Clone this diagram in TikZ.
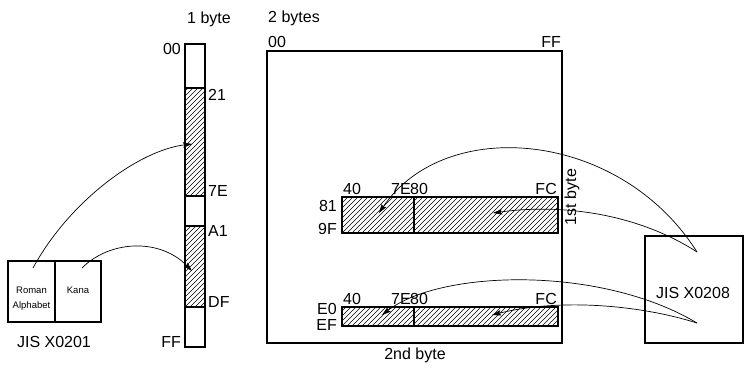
\documentclass[tikz,border=0pt]{standalone}
\usepackage{fontspec}
\setmainfont{Liberation Sans}
\usetikzlibrary{arrows.meta}
\newcommand\myhatchbox[4]{%
  \begin{scope}
    \clip (#1,#2) rectangle (#3,#4);
    \foreach \k in {0,...,80} \draw[hatchline] ({#1-120+5*\k},#4) -- ++(130,-130);
  \end{scope}}
\begin{document}
\begin{tikzpicture}[x=1pt,y=-1pt,
  lbl/.style={font=\fontsize{16}{16}\selectfont, inner sep=0pt},
  small/.style={font=\fontsize{9.5}{10}\selectfont, inner sep=0pt},
  hatchline/.style={line width=0.45pt},
  frame/.style={line width=1.1pt},
  divider/.style={line width=2pt},
  conn/.style={line width=0.7pt,-{Stealth[length=9pt,width=5.5pt,inset=1.5pt]}},
]
\useasboundingbox (0,0) rectangle (744,367);

% JIS X0201
\draw[frame] (8,261) rectangle (101,322);
\draw[frame] (55,261) -- (55,322);
\node[small] (romant) at (31.5,290) {Roman};
\node[small] (alpht) at (31.5,306) {Alphabet};
\node[small] (kanat) at (78,290) {Kana};
\node[lbl] (x0201) at (54,342) {JIS X0201};

% 1 byte column
\node[lbl, anchor=base] (onebyte) at (209,23) {1 byte};
\myhatchbox{185}{88}{205}{196}
\myhatchbox{185}{226}{205}{307}
\draw[frame] (185,44) rectangle (205,347);
\foreach \yy in {88,196,226,307} \draw[frame] (185,\yy) -- (205,\yy);
\node[lbl, anchor=east] (b00) at (181,49) {00};
\node[lbl, anchor=west] (b21) at (208,95) {21};
\node[lbl, anchor=west] (b7E) at (208,191) {7E};
\node[lbl, anchor=west] (bA1) at (208,231) {A1};
\node[lbl, anchor=west] (bDF) at (208,302) {DF};
\node[lbl, anchor=east] (bFF) at (181,342) {FF};

% 2 bytes box
\node[lbl, anchor=base west] (twobytes) at (268,22) {2 bytes};
\node[lbl, anchor=base west] (t00) at (268,47) {00};
\node[lbl, anchor=base east] (tFF) at (561,47) {FF};
\draw[frame] (267,51) rectangle (562,343);
\node[lbl, rotate=90] (first) at (572,197) {1st byte};
\node[lbl] (second) at (415,355) {2nd byte};

% bar 1
\myhatchbox{342}{197}{558}{233}
\draw[frame] (342,197) rectangle (558,233);
\draw[divider] (414,197) -- (414,233);
\node[lbl, anchor=west] (u40) at (343,189) {40};
\node[lbl, anchor=east] (u7E) at (411,189) {7E};
\node[lbl, anchor=west] (u80) at (410,189) {80};
\node[lbl, anchor=east] (uFC) at (557,189) {FC};
\node[lbl, anchor=east] (u81) at (337,206) {81};
\node[lbl, anchor=east] (u9F) at (337,229) {9F};

% bar 2
\myhatchbox{342}{307}{558}{326}
\draw[frame] (342,307) rectangle (558,326);
\draw[divider] (414,307) -- (414,326);
\node[lbl, anchor=west] (l40) at (343,299) {40};
\node[lbl, anchor=east] (l7E) at (411,299) {7E};
\node[lbl, anchor=west] (l80) at (410,299) {80};
\node[lbl, anchor=east] (lFC) at (557,299) {FC};
\node[lbl, anchor=east] (lE0) at (337,309) {E0};
\node[lbl, anchor=east] (lEF) at (337,325) {EF};

% JIS X0208
\draw[frame] (645,236) rectangle (743,343);
\node[lbl] (x0208) at (693,293) {JIS X0208};

% connector ends
\coordinate (t1) at (697,252);
\coordinate (t2) at (697,323);
\coordinate (h1) at (379,213);
\coordinate (h2) at (493,213);
\coordinate (h3) at (382,315);
\coordinate (h4) at (492,315);
\coordinate (sA) at (33,268);
\coordinate (hA) at (192,144);
\coordinate (sB) at (82,268);
\coordinate (hB) at (192,271);

\draw[conn] (t1) .. controls (620,130) and (445,115) .. (h1);
\draw[conn] (t1) .. controls (640,215) and (565,203) .. (h2);
\draw[conn] (t2) .. controls (600,265) and (440,270) .. (h3);
\draw[conn] (t2) .. controls (640,305) and (560,298) .. (h4);
\draw[conn] (sA) .. controls (70,200) and (140,150) .. (hA);
\draw[conn] (sB) .. controls (110,240) and (160,238) .. (hB);
\end{tikzpicture}
\end{document}
